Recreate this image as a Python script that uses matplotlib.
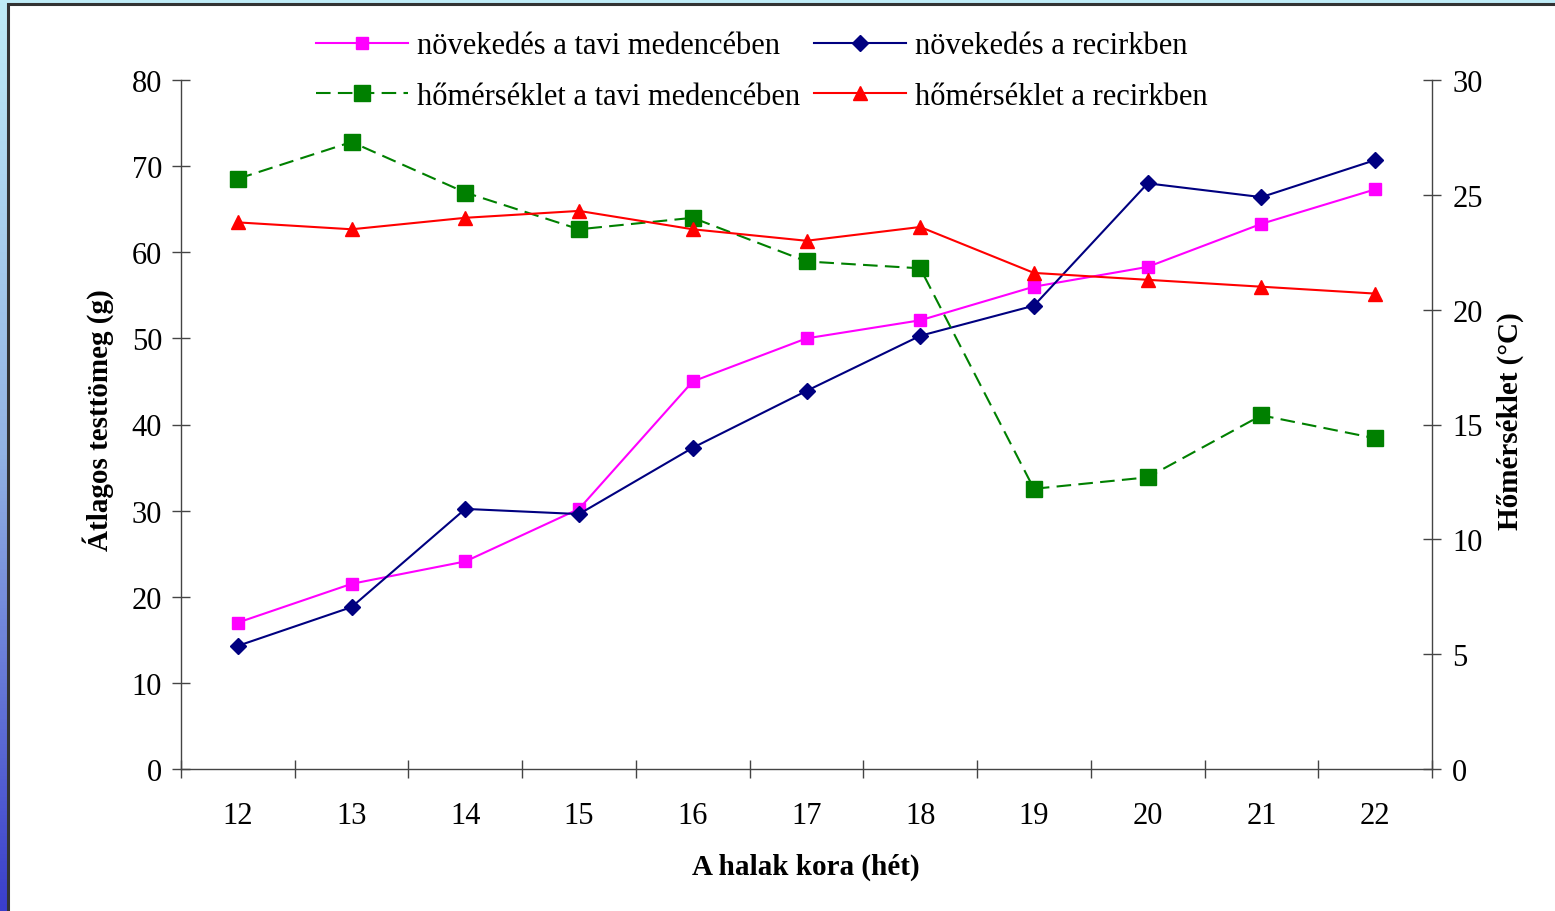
import numpy as np
import matplotlib
matplotlib.use('Agg')
import matplotlib.pyplot as plt
from matplotlib.colors import LinearSegmentedColormap
from matplotlib.patches import Rectangle

plt.rcParams['font.family'] = ['Liberation Serif', 'DejaVu Serif']

# adatok
het = [12, 13, 14, 15, 16, 17, 18, 19, 20, 21, 22]
nov_tavi = [17.0, 21.5, 24.1, 30.2, 45.0, 50.0, 52.1, 56.0, 58.3, 63.3, 67.3]
nov_recirk = [14.3, 18.8, 30.2, 29.6, 37.3, 43.9, 50.3, 53.8, 68.0, 66.4, 70.7]
hom_tavi = [25.7, 27.3, 25.1, 23.5, 24.0, 22.1, 21.8, 12.2, 12.7, 15.4, 14.4]
hom_recirk = [23.8, 23.5, 24.0, 24.3, 23.5, 23.0, 23.6, 21.6, 21.3, 21.0, 20.7]

W, H = 1555, 912
fig = plt.figure(figsize=(W / 100, H / 100), dpi=100)

# háttér szinátmenet
bg = fig.add_axes([0, 0, 1, 1], zorder=-10)
cmap = LinearSegmentedColormap.from_list('bg', ['#bfecf7', '#92b2e3', '#3a3ecb'])
grad = np.linspace(0, 1, 256).reshape(-1, 1)
bg.imshow(grad, cmap=cmap, aspect='auto', extent=[0, 1, 0, 1], origin='upper')
bg.add_patch(Rectangle((8 / W, -0.01), 1.0, (912 - 5) / H + 0.01, facecolor='white',
                       edgecolor='#333333', linewidth=2.2))
bg.set_xlim(0, 1)
bg.set_ylim(0, 1)
bg.axis('off')

ax = fig.add_axes([181 / W, (H - 770) / H, (1432 - 181) / W, (770 - 81) / H])
ax.set_facecolor('none')
ax2 = ax.twinx()

fs = 22
lfs = 21
l1, = ax.plot(het, nov_tavi, '-s', color='#ff00ff', lw=1.5, ms=9, mec='#ff00ff',
              label='növekedés a tavi medencében')
l2, = ax.plot(het, nov_recirk, '-D', color='#000080', lw=1.5, ms=8, mec='#000080',
              label='növekedés a recirkben')
l3, = ax2.plot(het, hom_tavi, '--s', color='#008000', lw=1.5, ms=11.5, mec='#008000',
               dashes=(7, 3.5), label='hőmérséklet a tavi medencében')
l4, = ax2.plot(het, hom_recirk, '-^', color='#ff0000', lw=1.5, ms=9.5, mec='#ff0000',
               label='hőmérséklet a recirkben')

ax.set_xlim(11.5, 22.5)
ax.set_ylim(0, 80)
ax2.set_ylim(0, 30)
ax.set_yticks(range(0, 81, 10))
ax2.set_yticks(range(0, 31, 5))

bounds = np.arange(11.5, 23, 1)
ax.set_xticks(bounds)
ax.set_xticklabels([])
ax.set_xticks(het, minor=True)
ax.set_xticklabels([str(h) for h in het], minor=True, fontsize=fs)
ax.tick_params(axis='x', which='minor', length=0, pad=23)
ax.tick_params(axis='x', which='major', direction='inout', length=13, width=1, color='#444444')
ax.tick_params(axis='y', direction='inout', length=13, width=1, labelsize=fs, pad=7, color='#444444')
ax2.tick_params(axis='y', direction='inout', length=13, width=1, labelsize=fs, pad=8, color='#444444')

for a in (ax, ax2):
    a.spines['top'].set_visible(False)
    for s in ('left', 'right', 'bottom'):
        a.spines[s].set_color('#444444')
        a.spines[s].set_linewidth(1)
ax.spines['right'].set_visible(False)
ax2.spines['left'].set_visible(False)
ax2.spines['bottom'].set_visible(False)

fig.text(98 / W, 1 - 420 / H, 'Átlagos testtömeg (g)', rotation=90, fontsize=lfs,
         fontweight='bold', ha='center', va='center')
fig.text(1510 / W, 1 - 421 / H, 'Hőmérséklet (°C)', rotation=90, fontsize=lfs,
         fontweight='bold', ha='center', va='center')
fig.text(806 / W, 1 - 867 / H, 'A halak kora (hét)', fontsize=lfs,
         fontweight='bold', ha='center', va='center')

# sorfolytonos sorrend: 1. sor növekedés, 2. sor hőmérséklet
hs = [l1, l3, l2, l4]
fig.legend(hs, [l.get_label() for l in hs],
           ncol=2, loc='center', bbox_to_anchor=(762 / W, 1 - 72 / H), frameon=False,
           fontsize=fs, handlelength=3.0, handletextpad=0.3, columnspacing=0.45,
           labelspacing=0.7, borderaxespad=0)

fig.savefig('out.png', dpi=100)
